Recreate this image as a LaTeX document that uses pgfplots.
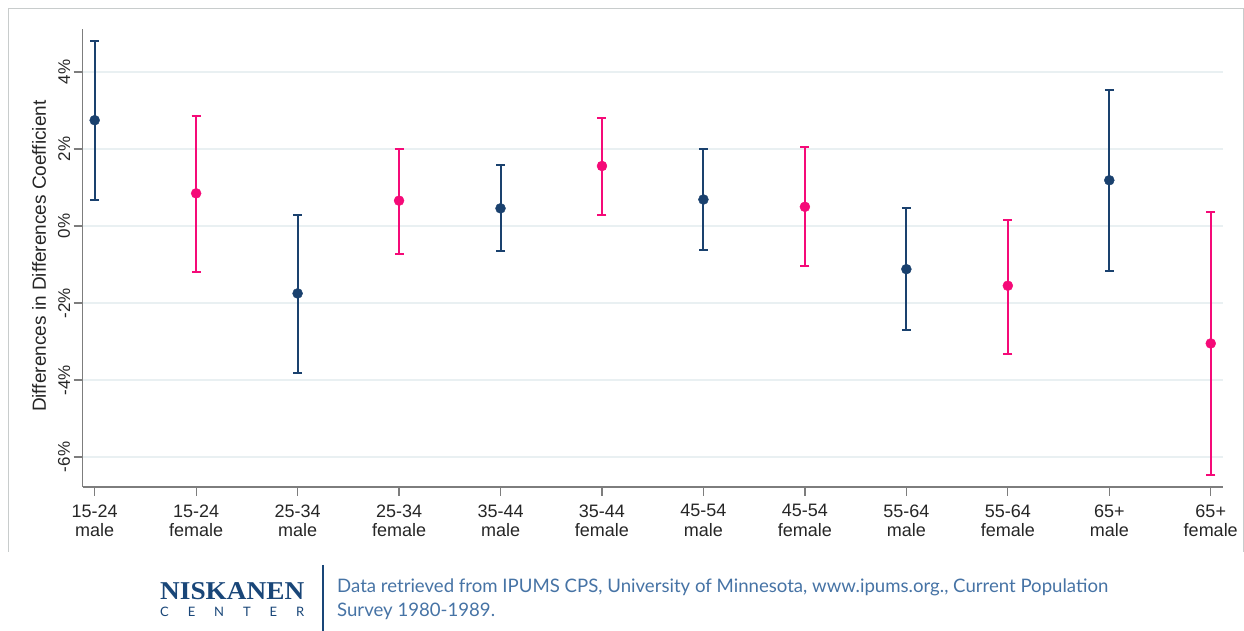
\documentclass[border=0pt]{standalone}
\usepackage{fontspec}
\setmainfont{Liberation Sans}
\newfontfamily\footfont{Lato}
\newfontfamily\logofont{Liberation Serif}
\usepackage{graphicx}
\usepackage{pgfplots}
\usepackage{pgfplotstable}
\pgfplotsset{compat=1.18}

\definecolor{navy}{RGB}{26,65,110}
\definecolor{hotpink}{RGB}{245,10,120}
\definecolor{gridc}{RGB}{233,240,242}
\definecolor{framec}{RGB}{200,204,204}
\definecolor{axisc}{RGB}{125,125,125}
\definecolor{foottext}{RGB}{70,115,165}
\definecolor{logoblue}{RGB}{25,70,120}

% point estimate with lower / upper bound, in percent
\pgfplotstableread{
x y lo hi
0 2.75 0.68 4.80
2 -1.75 -3.81 0.30
4 0.46 -0.66 1.58
6 0.69 -0.63 2.01
8 -1.12 -2.70 0.46
10 1.19 -1.17 3.53
}\males
\pgfplotstableread{
x y lo hi
1 0.85 -1.19 2.86
3 0.66 -0.72 1.99
5 1.56 0.30 2.82
7 0.50 -1.03 2.06
9 -1.55 -3.32 0.17
11 -3.05 -6.46 0.37
}\females

\pgfplotsset{ci/.style={only marks, mark=*, mark size=5pt,
    error bars/.cd, y dir=both, y explicit,
    error bar style={line width=2pt},
    error mark options={rotate=90, mark size=4.5pt, line width=2pt}}}

\begin{document}
\begin{tikzpicture}[x=1pt,y=1pt]
\path[use as bounding box] (0,0) rectangle (1244,631);
\draw[framec, line width=1pt] (8,79) -- (8,622) -- (1243,622) -- (1243,79);

\begin{axis}[
    at={(82.7pt,144pt)}, anchor=south west,
    width=1140pt, height=458pt, scale only axis,
    xmin=-0.118, xmax=11.118,
    ymin=-6.78, ymax=5.12,
    axis lines*=left,
    axis line style={axisc, line width=1.2pt},
    tick align=outside,
    major tick length=9pt,
    tick style={axisc, line width=1.2pt},
    ymajorgrids,
    grid style={gridc, line width=2pt},
    ytick={-6,-4,-2,0,2,4},
    yticklabel={\pgfmathprintnumber{\tick}\%},
    /pgf/number format/assume math mode=true,
    yticklabel style={rotate=90, anchor=south, font=\fontsize{17}{20}\selectfont, text=black!85},
    xtick={0,...,11},
    xticklabels={{15-24\\male},{15-24\\female},{25-34\\male},{25-34\\female},
                 {35-44\\male},{35-44\\female},{45-54\\male},{45-54\\female},
                 {55-64\\male},{55-64\\female},{65+\\male},{65+\\female}},
    xticklabel style={align=center, yshift=-5pt, font=\fontsize{18}{19.5}\selectfont, text=black!85},
    ylabel={Differences in Differences Coefficient},
    ylabel style={at={(axis description cs:-0.0383,0.504)}, anchor=center,
                  font=\fontsize{19}{22}\selectfont, text=black!85},
    clip=false,
]
\addplot[navy, ci]
    table[x=x, y=y,
          y error plus expr=\thisrow{hi}-\thisrow{y},
          y error minus expr=\thisrow{y}-\thisrow{lo}] {\males};
\addplot[hotpink, ci]
    table[x=x, y=y,
          y error plus expr=\thisrow{hi}-\thisrow{y},
          y error minus expr=\thisrow{y}-\thisrow{lo}] {\females};
\end{axis}

% footer
\node[anchor=south west, inner sep=0, logoblue] at (160,31)
    {\resizebox{144pt}{17pt}{\logofont\bfseries NISKANEN}};
\node[anchor=base west, inner sep=0, logoblue, font=\footfont\fontsize{13}{13}\selectfont] at (160,14)
    {\makebox[144pt][s]{C\hfill E\hfill N\hfill T\hfill E\hfill R}};
\draw[logoblue, line width=1.2pt] (323,66) -- (323,0);
\node[anchor=base west, inner sep=0, foottext, font=\footfont\fontsize{18.6}{18.6}\selectfont] at (337,38)
    {Data retrieved from IPUMS CPS, University of Minnesota, www.ipums.org., Current Population};
\node[anchor=base west, inner sep=0, foottext, font=\footfont\fontsize{18.6}{18.6}\selectfont] at (337,14)
    {Survey 1980-1989.};
\end{tikzpicture}
\end{document}
